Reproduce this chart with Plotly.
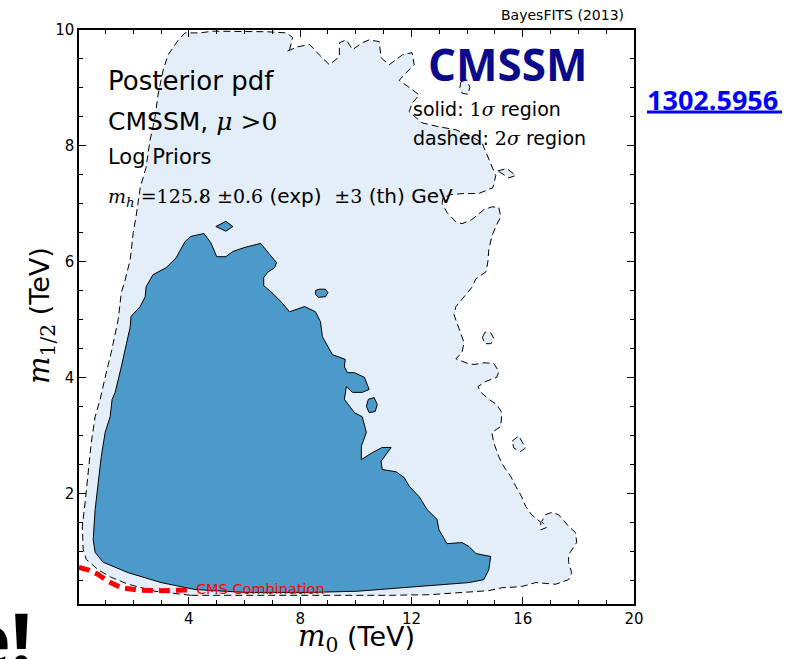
import plotly.graph_objects as go

# ---- 2 sigma credible region (outer boundary, TeV) ----
sigma2_m0 = [4.07, 2.78, 1.82, 1.21, 0.74, 0.31, 0.20, 0.17, 0.28, 0.38,
             0.49, 0.63, 0.81, 1.03, 1.21, 1.46, 1.57, 1.71, 1.89, 2.00,
             2.10, 2.25, 2.46, 2.60, 2.78, 2.89, 3.07, 3.25, 3.61, 3.86,
             4.40, 4.86, 6.80, 7.51, 7.73, 7.62, 7.51, 7.91, 8.34, 8.69,
             9.05, 9.41, 9.41, 9.66, 9.88, 10.23, 10.48, 10.84, 10.91, 11.20,
             11.67, 12.02, 12.10, 11.74, 11.56, 11.92, 12.28, 12.02, 11.92, 12.38,
             12.99, 13.60, 14.17, 14.53, 14.68, 14.85, 15.03, 14.93, 14.42, 13.89,
             13.42, 13.14, 13.10, 13.28, 13.60, 13.82, 14.17, 14.60, 14.89, 15.14,
             15.21, 15.03, 14.89, 14.78, 14.75, 14.68, 14.32, 14.17, 13.96, 13.78,
             13.60, 13.53, 13.64, 13.78, 13.89, 13.82, 13.60, 13.96, 14.25, 14.60,
             14.96, 15.14, 15.07, 14.68, 14.39, 14.50, 14.78, 15.07, 15.25, 15.21,
             14.89, 14.96, 15.14, 15.32, 15.57, 15.75, 15.96, 16.11, 16.32, 16.65,
             16.65, 16.86, 16.68, 16.82, 17.04, 17.29, 17.65, 17.90, 17.94, 17.65,
             17.65, 17.76, 17.65, 17.18, 16.47, 15.96, 15.25, 14.78, 13.82, 12.63,
             11.20]
sigma2_m12 = [0.25, 0.32, 0.44, 0.56, 0.69, 0.87, 1.04, 1.44, 1.90, 2.37,
              2.88, 3.33, 3.63, 4.09, 4.44, 5.01, 5.47, 5.69, 6.04, 6.51,
              6.78, 7.28, 7.63, 8.09, 8.49, 8.88, 9.30, 9.57, 9.82, 9.95,
              9.95, 9.98, 9.97, 9.95, 9.87, 9.66, 9.63, 9.71, 9.75, 9.57,
              9.40, 9.54, 9.78, 9.83, 9.66, 9.78, 9.83, 9.80, 9.52, 9.40,
              9.57, 9.61, 9.40, 9.23, 9.13, 9.01, 8.88, 8.73, 8.59, 8.40,
              8.33, 8.28, 8.16, 8.06, 7.88, 7.68, 7.49, 7.28, 7.18, 7.18,
              7.16, 7.11, 7.01, 6.85, 6.69, 6.66, 6.73, 6.90, 6.95, 6.94,
              6.78, 6.61, 6.44, 6.21, 6.01, 5.83, 5.71, 5.56, 5.44, 5.32,
              5.23, 5.09, 4.95, 4.78, 4.61, 4.44, 4.33, 4.26, 4.23, 4.26,
              4.25, 4.11, 4.01, 3.94, 3.85, 3.75, 3.63, 3.54, 3.40, 3.16,
              3.06, 2.88, 2.64, 2.47, 2.30, 2.13, 1.95, 1.78, 1.64, 1.51,
              1.38, 1.42, 1.52, 1.64, 1.68, 1.64, 1.44, 1.33, 1.16, 0.95,
              0.82, 0.64, 0.52, 0.44, 0.47, 0.40, 0.38, 0.33, 0.30, 0.26,
              0.25]

# small detached 2 sigma islands
island2a_m0 = [14.55, 14.65, 14.85, 14.96, 14.86, 14.64]
island2a_m12 = [4.70, 4.79, 4.78, 4.68, 4.59, 4.59]
island2b_m0 = [15.62, 15.86, 16.10, 15.92, 15.68]
island2b_m12 = [2.91, 3.00, 2.79, 2.73, 2.79]
island2c_m0 = [13.78, 14.00, 14.10, 14.03, 13.82, 13.74]
island2c_m12 = [9.11, 9.14, 9.01, 8.89, 8.91, 9.01]
island2d_m0 = [15.10, 15.43, 15.75, 15.50]
island2d_m12 = [7.57, 7.61, 7.49, 7.45]

# ---- 1 sigma credible region (TeV) ----
sigma1_m0 = [10.05, 8.37, 6.01, 4.22, 3.00, 1.82, 0.92, 0.63, 0.56, 0.63,
             0.74, 0.85, 0.99, 1.17, 1.24, 1.35, 1.57, 1.71, 1.89, 1.92,
             2.25, 2.43, 2.46, 2.71, 3.18, 3.54, 3.86, 4.07, 4.54, 4.79,
             5.00, 5.33, 5.58, 6.01, 6.58, 6.90, 7.15, 7.08, 6.83, 6.69,
             6.69, 6.94, 7.30, 7.62, 8.16, 8.55, 8.73, 8.80, 9.16, 9.62,
             9.59, 9.70, 9.95, 10.31, 10.48, 10.23, 9.88, 9.66, 9.59, 9.95,
             10.23, 10.38, 10.20, 10.20, 10.59, 10.95, 11.27, 10.91, 10.95, 11.45,
             11.74, 11.92, 12.28, 12.56, 12.92, 12.99, 13.28, 13.82, 14.07, 14.32,
             14.85, 14.78, 14.60, 14.07, 13.24, 12.02, 10.84]
sigma1_m12 = [0.32, 0.30, 0.30, 0.35, 0.47, 0.64, 0.82, 0.99, 1.21, 1.73,
              2.19, 2.64, 3.06, 3.33, 3.63, 3.75, 4.19, 4.49, 4.88, 5.06,
              5.23, 5.40, 5.57, 5.78, 5.90, 6.07, 6.35, 6.44, 6.49, 6.33,
              6.09, 6.09, 6.18, 6.25, 6.32, 6.13, 5.99, 5.90, 5.82, 5.73,
              5.59, 5.49, 5.32, 5.14, 5.23, 5.14, 4.97, 4.71, 4.40, 4.32,
              4.19, 4.09, 4.09, 4.01, 3.80, 3.75, 3.75, 3.85, 3.63, 3.40,
              3.33, 3.06, 2.82, 2.59, 2.71, 2.80, 2.80, 2.56, 2.42, 2.38,
              2.28, 2.13, 1.95, 1.73, 1.56, 1.38, 1.14, 1.16, 1.09, 0.97,
              0.92, 0.69, 0.52, 0.47, 0.44, 0.40, 0.35]

island1a_m0 = [4.97, 5.33, 5.58, 5.33]
island1a_m12 = [6.61, 6.70, 6.61, 6.53]
island1b_m0 = [8.56, 8.69, 8.91, 9.00, 8.91, 8.66, 8.55]
island1b_m12 = [5.51, 5.53, 5.53, 5.47, 5.40, 5.39, 5.44]
island1c_m0 = [10.45, 10.66, 10.77, 10.70, 10.48, 10.38]
island1c_m12 = [3.63, 3.66, 3.54, 3.42, 3.40, 3.51]
island1d_m0 = [4.44, 4.50, 4.56, 4.50]
island1d_m12 = [7.13, 7.17, 7.13, 7.09]

# ---- CMS combined exclusion limit (TeV) ----
cms_m0 = [0.05, 0.38, 0.74, 1.10, 1.58, 2.17, 3.01, 3.96]
cms_m12 = [0.73, 0.69, 0.61, 0.49, 0.38, 0.34, 0.33, 0.34]

x_ticks = [4, 8, 12, 16, 20]
y_ticks = [2, 4, 6, 8, 10]


def join_polygons(polys):
    """Concatenate closed polygons, separated by None gaps."""
    xs, ys = [], []
    for px_, py_ in polys:
        assert len(px_) == len(py_)
        xs += list(px_) + [px_[0], None]
        ys += list(py_) + [py_[0], None]
    return xs[:-1], ys[:-1]


s2x, s2y = join_polygons([
    (sigma2_m0, sigma2_m12), (island2a_m0, island2a_m12),
    (island2b_m0, island2b_m12), (island2c_m0, island2c_m12),
    (island2d_m0, island2d_m12)])
s1x, s1y = join_polygons([
    (sigma1_m0, sigma1_m12), (island1a_m0, island1a_m12),
    (island1b_m0, island1b_m12), (island1c_m0, island1c_m12),
    (island1d_m0, island1d_m12)])

fig = go.Figure()
fig.add_trace(go.Scatter(
    x=s2x, y=s2y, mode="lines", fill="toself", fillcolor="#e3eef8",
    line=dict(color="black", width=1, dash="7px,4px"), hoverinfo="skip"))
fig.add_trace(go.Scatter(
    x=s1x, y=s1y, mode="lines", fill="toself", fillcolor="#4b9aca",
    line=dict(color="black", width=1), hoverinfo="skip"))
fig.add_trace(go.Scatter(
    x=cms_m0, y=cms_m12, mode="lines",
    line=dict(color="#ff0000", width=5, dash="11px,6px"), hoverinfo="skip"))

# plot-area geometry (pixels) used to place the free text
L, R, T, B = 79, 634, 30, 604
def px(x):
    return (x - L) / (R - L)
def py(y):
    return (B - y) / (B - T)

SANS = "DejaVu Sans"
SERIF = "DejaVu Serif"
def serif(s, size):
    return f"<span style='font-family:{SERIF};font-size:{size}px'>{s}</span>"

ann = []
def text(t, x, y, size, xanchor="left", color="black", family=SANS, **kw):
    ann.append(dict(text=t, x=px(x), y=py(y), xref="paper", yref="paper",
                    xanchor=xanchor, yanchor="middle", showarrow=False,
                    font=dict(family=family, size=size, color=color), **kw))

text("Posterior pdf", 106, 81, 26)
text("CMSSM, " + serif("<i>μ</i> &gt;0", 25), 106, 121, 25)
text("Log Priors", 106, 157, 21)
text(serif("<i>m</i><sub><i>h</i></sub> =125.8 ±0.6", 19) + " (exp)  "
     + serif("±3", 19) + " (th) GeV", 106, 197, 20)
text("<b>CMSSM</b>", 507, 64, 44, xanchor="center", color="#0a0a8a",
     family="Open Sans")
text("solid: " + serif("1<i>σ</i>", 19) + " region", 411, 109, 19)
text("dashed: " + serif("2<i>σ</i>", 19) + " region", 411, 138, 19)
text("BayesFITS (2013)", 626, 15, 14, xanchor="right")
text("<b>1302.5956</b>", 645, 99, 27, color="#0000ff", family="Open Sans")
text("<b>e!</b>", 34, 638, 74, xanchor="right", family="Open Sans")

# axis titles
text(serif("<i>m</i><sub>0</sub>", 29) + " (TeV)", 356, 638, 27,
     xanchor="center")
ann.append(dict(text=serif("<i>m</i><sub>1/2</sub>", 29) + " (TeV)",
                x=px(41), y=py(316), xref="paper", yref="paper",
                xanchor="center", yanchor="middle", textangle=-90,
                showarrow=False, font=dict(family=SANS, size=27, color="black")))

# label for the CMS limit, anchored in data units
ann.append(dict(text="CMS Combination", x=4.2, y=0.36, xref="x", yref="y",
                xanchor="left", yanchor="middle", showarrow=False,
                font=dict(family=SANS, size=14.5, color="#ff0000")))

axis_common = dict(
    showline=True, linecolor="black", linewidth=1.5, mirror="allticks",
    ticks="inside", ticklen=7, tickwidth=1, tickcolor="black",
    showgrid=False, zeroline=False,
    tickfont=dict(family=SANS, size=15, color="black"),
)

fig.update_layout(
    width=785, height=659,
    margin=dict(l=L, r=785 - R, t=T, b=659 - B),
    paper_bgcolor="white", plot_bgcolor="white",
    showlegend=False,
    annotations=ann,
    shapes=[dict(type="line", xref="paper", yref="paper",
                 x0=px(647), x1=px(782), y0=py(112), y1=py(112),
                 line=dict(color="#0000ff", width=3))],
    xaxis=dict(range=[0.05, 20], tickvals=x_ticks,
               minor=dict(ticks="inside", ticklen=4, dtick=1, tick0=0,
                          tickcolor="black", tickwidth=1),
               **axis_common),
    yaxis=dict(range=[0.1, 10], tickvals=y_ticks,
               minor=dict(ticks="inside", ticklen=4, dtick=0.5, tick0=0,
                          tickcolor="black", tickwidth=1),
               **axis_common),
)

fig.write_html("out.html")
